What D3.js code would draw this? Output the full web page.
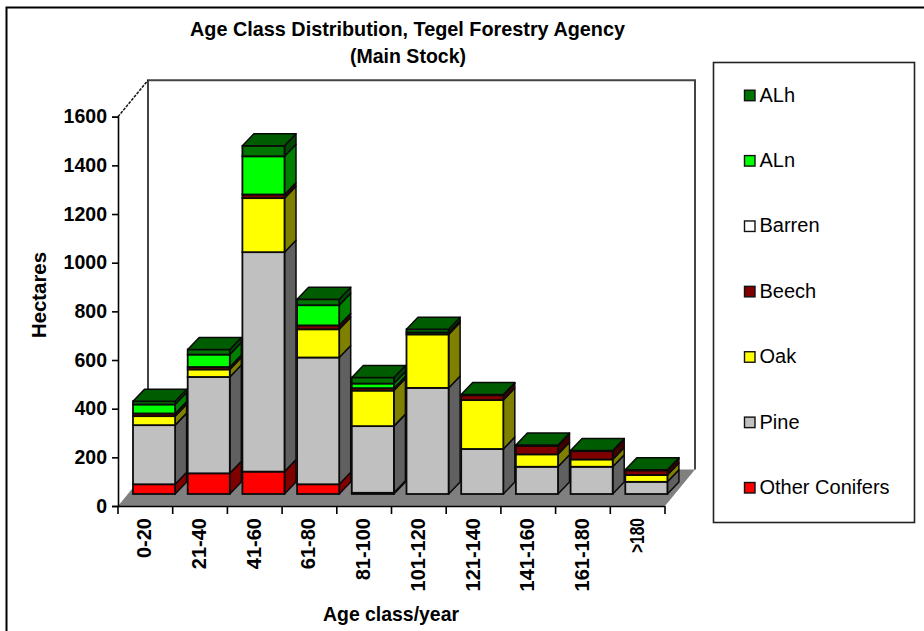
<!DOCTYPE html>
<html><head><meta charset="utf-8">
<script src="https://cdn.jsdelivr.net/npm/d3@7/dist/d3.min.js"></script>
<style>
html,body{margin:0;padding:0;background:#fff;overflow:hidden}
svg{display:block}
text{font-family:"Liberation Sans",Arial,sans-serif;fill:#000}
</style></head><body>
<script>
const categories = ["0-20","21-40","41-60","61-80","81-100","101-120","121-140","141-160","161-180",">180"];
const otherConifers = [40,85,92,40,5,0,0,0,0,0];
const pine   = [243,396,902,521,274,436,185,112,112,50];
const oak    = [37,31,222,116,146,220,201,51,30,28];
const beech  = [11,10,15,16,10,0,20,35,34,19];
const barren = [0,0,0,0,0,0,0,0,0,0];
const aln    = [37,51,157,83,19,8,0,0,0,0];
const alh    = [13,21,43,24,25,13,3,3,3,3];
const seriesNames = ["Other Conifers","Pine","Oak","Beech","Barren","ALn","ALh"];
const seriesValues = [otherConifers,pine,oak,beech,barren,aln,alh];
const legendOrder = ["ALh","ALn","Barren","Beech","Oak","Pine","Other Conifers"];
const yTicks = [0,200,400,600,800,1000,1200,1400,1600];

const front = {"Other Conifers":"#ff0000","Pine":"#c0c0c0","Oak":"#ffff00","Beech":"#800000","Barren":"#ffffff","ALn":"#00ff00","ALh":"#007400"};
const side  = {"Other Conifers":"#800000","Pine":"#606060","Oak":"#808000","Beech":"#400000","Barren":"#808080","ALn":"#008000","ALh":"#004800"};
const top_  = {"Other Conifers":"#a00000","Pine":"#909090","Oak":"#a0a000","Beech":"#600000","Barren":"#c0c0c0","ALn":"#00c000","ALh":"#005c00"};

const W=924,H=631;
const svg=d3.select("body").append("svg").attr("width",W).attr("height",H);
const edge="#0a0a0a";

// outer frame
svg.append("path").attr("d",`M6.5,${H} V7.5 H${W}`).attr("fill","none").attr("stroke","#000").attr("stroke-width",2);

const x=d3.scaleBand().domain(categories).range([118,665]).paddingInner(0.23).paddingOuter(0.115);
const y=d3.scaleLinear().domain([0,1600]).range([506,116.7]);
const wallDx=30, wallDy=36.5, barShift=8.7, barLift=12, dDx=11.5, dDy=12;

// walls and floor
const x0=x.range()[0], x1=x.range()[1], y0=y(0), yT=y(1600);
svg.append("path").attr("d",`M${x0},${y0} H${x1} L${x1+wallDx},${y0-wallDy} H${x0+wallDx} Z`).attr("fill","#808080");
svg.append("path").attr("d",`M${x0+wallDx},${y0-wallDy} V${yT-wallDy} H${x1+wallDx} V${y0-wallDy}`)
  .attr("fill","none").attr("stroke","#444").attr("stroke-width",2);
svg.append("line").attr("x1",x0).attr("y1",yT).attr("x2",x0+wallDx).attr("y2",yT-wallDy)
  .attr("stroke","#111").attr("stroke-width",1.5).attr("stroke-dasharray","3 1.2");

// bars
const table=categories.map((c,i)=>{const o={cat:c};seriesNames.forEach((s,k)=>o[s]=seriesValues[k][i]);return o;});
const stacked=d3.stack().keys(seriesNames)(table);
categories.forEach((c,i)=>{
  const g=svg.append("g");
  const segs=stacked.map(s=>({name:s.key,lo:s[i][0],hi:s[i][1]})).filter(d=>d.hi>d.lo);
  const L=x(c)+barShift, R=L+x.bandwidth();
  const yy=v=>y(v)-barLift;
  segs.forEach(d=>{
    g.append("polygon").attr("points",[[R,yy(d.lo)],[R+dDx,yy(d.lo)-dDy],[R+dDx,yy(d.hi)-dDy],[R,yy(d.hi)]].join(" "))
      .attr("fill",side[d.name]).attr("stroke",edge).attr("stroke-width",1.5).attr("stroke-linejoin","round");
  });
  segs.forEach(d=>{
    g.append("rect").attr("x",L).attr("y",yy(d.hi)).attr("width",R-L).attr("height",yy(d.lo)-yy(d.hi))
      .attr("fill",front[d.name]).attr("stroke",edge).attr("stroke-width",1.8);
  });
  const t=segs[segs.length-1];
  g.append("polygon").attr("points",[[L,yy(t.hi)],[L+dDx,yy(t.hi)-dDy],[R+dDx,yy(t.hi)-dDy],[R,yy(t.hi)]].join(" "))
    .attr("fill",top_[t.name]).attr("stroke",edge).attr("stroke-width",1.5).attr("stroke-linejoin","round");
});

// y axis
const ya=svg.append("g").attr("transform",`translate(${x0},0)`)
  .call(d3.axisLeft(y).tickValues(yTicks).tickSize(6).tickPadding(5).tickFormat(d3.format("d")));
ya.select(".domain").attr("stroke","#000").attr("stroke-width",1.6);
ya.selectAll(".tick line").attr("stroke","#000").attr("stroke-width",1.6);
ya.selectAll("text").attr("font-size",19.5).attr("font-weight","bold").style("font-family",'"Liberation Sans"').attr("fill","#000");

// x axis
const xa=svg.append("g").attr("transform",`translate(0,${y0})`)
  .call(d3.axisBottom(x).tickSize(0).tickPadding(0));
xa.select(".domain").attr("stroke","#000").attr("stroke-width",1.6).attr("d",`M${x0},0.5H${x1}`);
xa.selectAll(".tick line").remove();
xa.selectAll(".tick text")
  .attr("transform","translate(0,12) rotate(-90)")
  .attr("text-anchor","end").attr("x",0).attr("y",0).attr("dy","0.3em")
  .attr("font-size",20).attr("font-weight","bold").style("font-family",'"Liberation Sans"').attr("fill","#000")
  .filter(d=>d.startsWith(">")).attr("textLength",35).attr("lengthAdjust","spacingAndGlyphs");
xa.selectAll(".boundary").data(d3.range(categories.length+1)).enter().append("line")
  .attr("x1",i=>x0+i*x.step()).attr("x2",i=>x0+i*x.step()).attr("y1",0).attr("y2",8)
  .attr("stroke","#000").attr("stroke-width",1.6);

// titles
const bold=(sel,size)=>sel.attr("font-size",size).attr("font-weight","bold");
bold(svg.append("text").attr("x",407.5).attr("y",36).attr("text-anchor","middle")
  .attr("textLength",435).attr("lengthAdjust","spacingAndGlyphs").text("Age Class Distribution, Tegel Forestry Agency"),21);
bold(svg.append("text").attr("x",408).attr("y",63).attr("text-anchor","middle")
  .attr("textLength",116).attr("lengthAdjust","spacingAndGlyphs").text("(Main Stock)"),21);
bold(svg.append("text").attr("x",391).attr("y",621).attr("text-anchor","middle")
  .attr("textLength",136).attr("lengthAdjust","spacingAndGlyphs").text("Age class/year"),21);
bold(svg.append("text").attr("transform","translate(46,295) rotate(-90)").attr("text-anchor","middle")
  .attr("textLength",86).attr("lengthAdjust","spacingAndGlyphs").text("Hectares"),21);

// legend
svg.append("rect").attr("x",713.5).attr("y",62.5).attr("width",201).attr("height",460)
  .attr("fill","#fff").attr("stroke","#222").attr("stroke-width",1.6);
const leg=d3.scalePoint().domain(legendOrder).range([95.7,488]);
legendOrder.forEach(n=>{
  svg.append("rect").attr("x",744.5).attr("y",leg(n)-5.5).attr("width",10.5).attr("height",10.5)
    .attr("fill",front[n]).attr("stroke","#111").attr("stroke-width",1.4);
  svg.append("text").attr("x",759.5).attr("y",leg(n)+6).attr("font-size",20).text(n);
});
</script>
</body></html>
